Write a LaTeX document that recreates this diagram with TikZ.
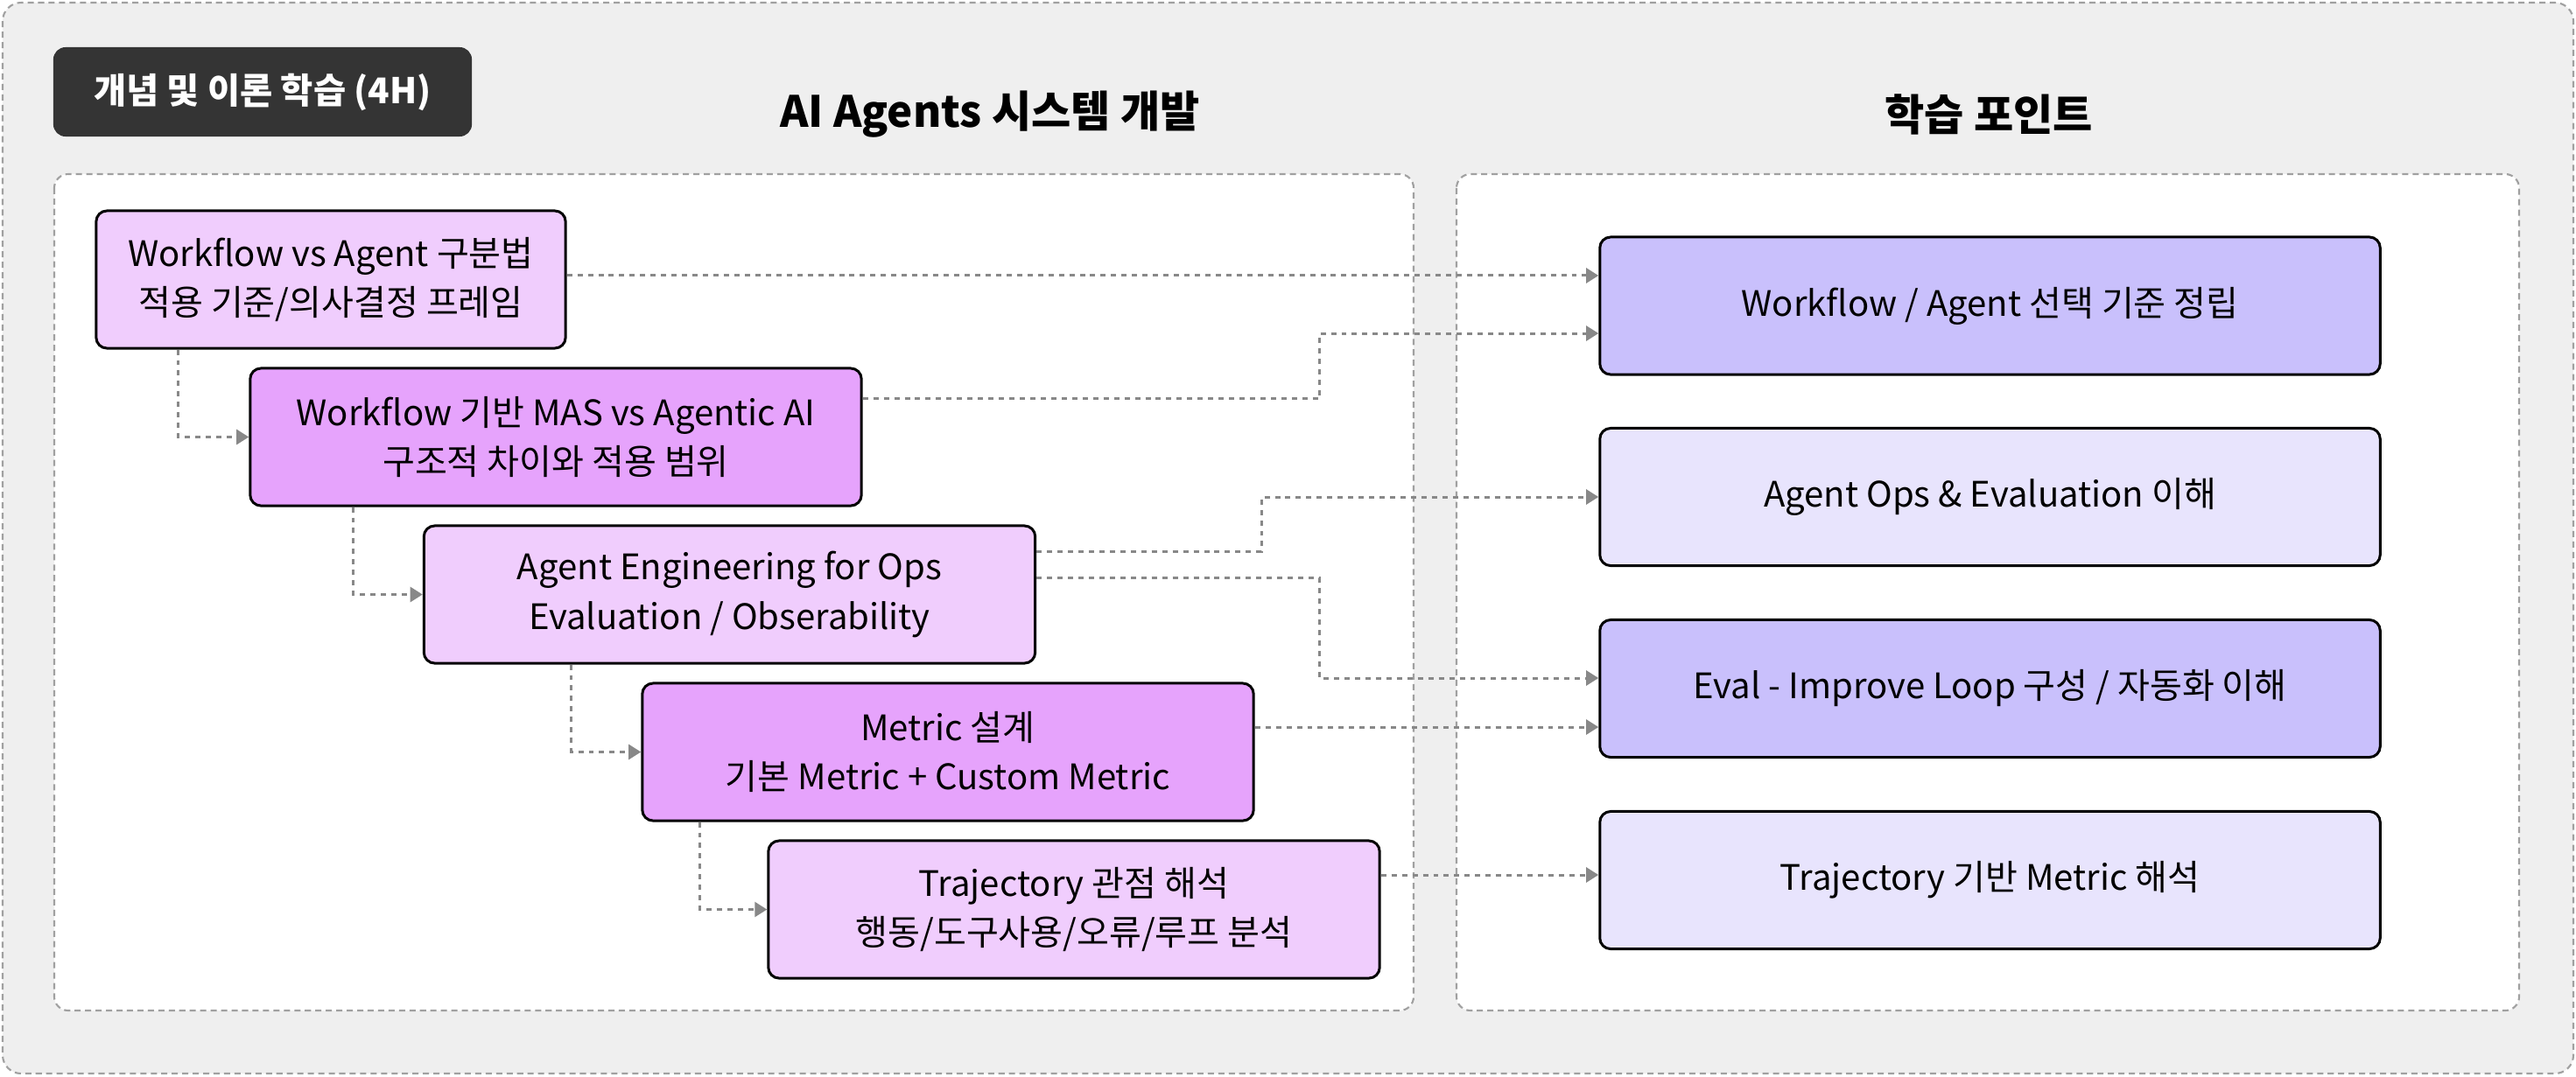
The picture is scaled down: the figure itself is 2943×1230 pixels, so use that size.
\documentclass[tikz,border=0pt]{standalone}
\usepackage{fontspec}
\setmainfont{Noto Sans CJK KR}
\usepackage{xcolor}
\definecolor{bggray}{RGB}{239,239,239}
\definecolor{framegray}{RGB}{160,160,160}
\definecolor{linkgray}{RGB}{136,136,136}
\definecolor{badgegray}{RGB}{52,52,52}
\definecolor{pinklt}{RGB}{240,205,253}
\definecolor{pinkdk}{RGB}{230,163,252}
\definecolor{lavdk}{RGB}{201,192,252}
\definecolor{lavlt}{RGB}{232,228,253}
\usetikzlibrary{arrows.meta}
\tikzset{
  stepbox/.style={draw=black,line width=0.85pt,rounded corners=3.5pt,minimum height=1.57cm,align=center,font=\fontsize{11.4pt}{16pt}\selectfont},
  goalbox/.style={stepbox,minimum width=8.91cm},
  link/.style={draw=linkgray,line width=0.85pt,dash pattern=on 1.7pt off 1.7pt,-{Triangle[length=4pt,width=4.8pt]}},
  frame/.style={draw=framegray,line width=0.6pt,dash pattern=on 2pt off 1.4pt,rounded corners=4.5pt},
  heading/.style={font=\bfseries\fontsize{14pt}{17pt}\selectfont}
}

\begin{document}
\begin{tikzpicture}[x=0.01cm,y=-0.01cm]
\useasboundingbox (0,0) rectangle (2943,1230);
% ---- tlo i naglowki ----
\draw[frame,fill=bggray,rounded corners=6pt] (3,3) rectangle (2940,1227);
\node[fill=badgegray,rounded corners=4pt,minimum width=4.78cm,minimum height=1.02cm,text=white,font=\bfseries\fontsize{11.5pt}{13pt}\selectfont] (badge) at (300,105) {개념 및 이론 학습 (4H)};
\node[heading] (tleft) at (1131,131) {AI Agents 시스템 개발};
\node[heading] (tright) at (2272,131) {학습 포인트};
\draw[frame,fill=white] (62,199) rectangle (1615,1155);
\draw[frame,fill=white] (1664,199) rectangle (2878,1155);
% ---- lewa kolumna: kroki ----
\node[stepbox,fill=pinklt,minimum width=5.36cm] (b1) at (378,319.5) {Workflow vs Agent 구분법\\적용 기준/의사결정 프레임};
\node[stepbox,fill=pinkdk,minimum width=6.98cm] (b2) at (635,499.5) {Workflow 기반 MAS vs Agentic AI\\구조적 차이와 적용 범위};
\node[stepbox,fill=pinklt,minimum width=6.98cm] (b3) at (833.5,679.5) {Agent Engineering for Ops\\Evaluation / Obserability};
\node[stepbox,fill=pinkdk,minimum width=6.98cm] (b4) at (1083,859.5) {Metric 설계\\기본 Metric + Custom Metric};
\node[stepbox,fill=pinklt,minimum width=6.98cm] (b5) at (1227,1039.5) {Trajectory 관점 해석\\행동/도구사용/오류/루프 분석};
% ---- prawa kolumna: punkty ----
\node[goalbox,fill=lavdk] (r1) at (2273.5,349.5) {Workflow / Agent 선택 기준 정립};
\node[goalbox,fill=lavlt] (r2) at (2273.5,568) {Agent Ops \& Evaluation 이해};
\node[goalbox,fill=lavdk] (r3) at (2273.5,787) {Eval - Improve Loop 구성 / 자동화 이해};
\node[goalbox,fill=lavlt] (r4) at (2273.5,1006) {Trajectory 기반 Metric 해석};
% ---- polaczenia ----
\draw[link] ([xshift=9.5mm]b1.south west) |- (b2.west);
\draw[link] ([xshift=11.9mm]b2.south west) |- (b3.west);
\draw[link] ([xshift=17mm]b3.south west) |- (b4.west);
\draw[link] ([xshift=6.7mm]b4.south west) |- (b5.west);
\coordinate (q1) at ([yshift=3.45mm]r1.west);
\coordinate (q2) at ([yshift=-3.15mm]r1.west);
\coordinate (q4) at ([yshift=1.2mm]r3.west);
\coordinate (q5) at ([yshift=-4.4mm]r3.west);
\coordinate (q6) at ([yshift=0.6mm]r4.west);
\draw[link] (q1 -| b1.east) -- (q1);
\draw[link] ([yshift=4.35mm]b2.east) -- ++(522,0) |- (q2);
\draw[link] ([yshift=4.9mm]b3.east) -- ++(257,0) |- (r2.west);
\draw[link] ([yshift=1.9mm]b3.east) -- ++(323,0) |- (q4);
\draw[link] (q5 -| b4.east) -- (q5);
\draw[link] (q6 -| b5.east) -- (q6);
\end{tikzpicture}
\end{document}
